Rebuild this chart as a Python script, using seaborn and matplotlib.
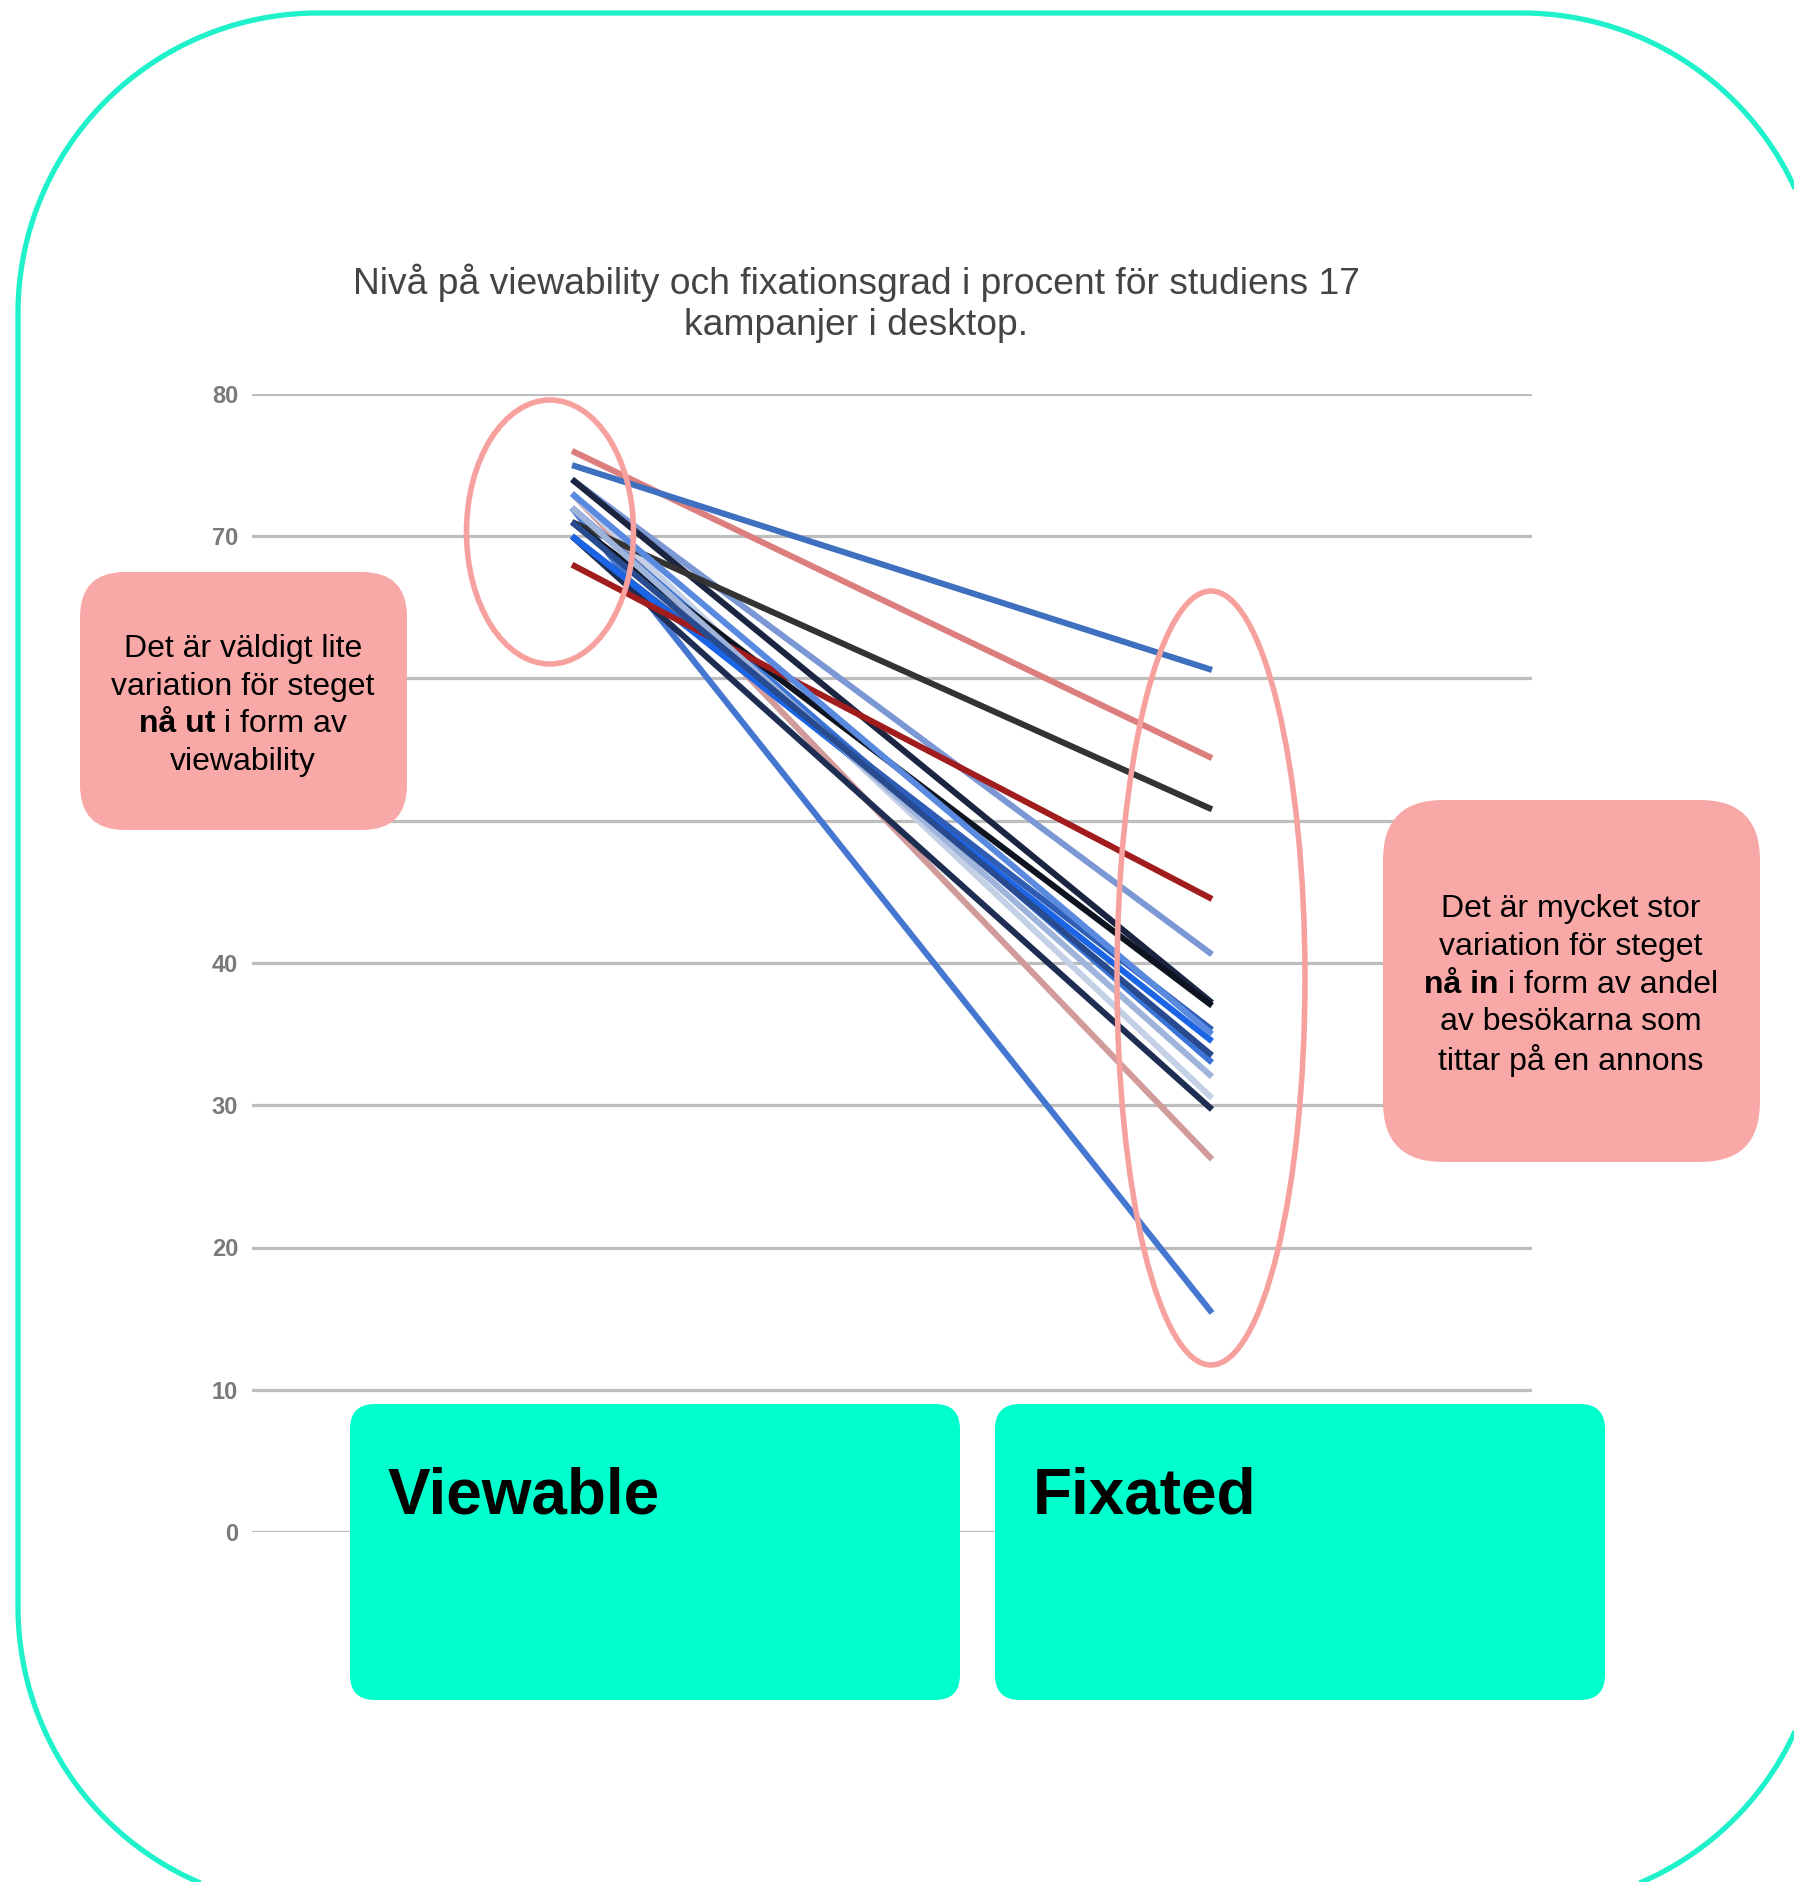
import matplotlib
matplotlib.use("Agg")
import matplotlib.pyplot as plt
from matplotlib.patches import FancyBboxPatch, Ellipse, PathPatch
from matplotlib.path import Path
import numpy as np
import pandas as pd
import seaborn as sns

# ---- data -------------------------------------------------------------
stages = ["Viewable", "Fixated"]
campaigns = [f"Kampanj {i}" for i in range(1, 18)]
viewable = [76, 75, 74, 74, 73, 73, 72, 72, 71, 71, 70, 70, 70, 68, 72, 73, 71]
fixated = [54.4, 60.6, 40.6, 37.2, 26.2, 30.5, 15.4, 33.0, 50.8, 37.0,
           29.7, 35.3, 34.5, 44.5, 32.0, 35.0, 33.5]
line_colors = ["#DD7E7E", "#3F6FBF", "#7C98D4", "#1B2440", "#D29B9B",
               "#C4D0E6", "#4577D1", "#3A74D6", "#333333", "#0E1420",
               "#1E2D52", "#2F5DB3", "#1C64E6", "#A11D1D", "#9FB4DA",
               "#5A8AE0", "#284B8F"]
y_ticks = [0, 10, 20, 30, 40, 50, 60, 70, 80]
# the 50 and 60 labels sit under the left note box
y_tick_labels = ["0", "10", "20", "30", "40", "", "", "70", "80"]

title_lines = ["Nivå på viewability och fixationsgrad i procent för studiens 17",
               "kampanjer i desktop."]
left_note = [[("Det är väldigt lite", "normal")],
             [("variation för steget", "normal")],
             [("nå ut", "bold"), (" i form av", "normal")],
             [("viewability", "normal")]]
right_note = [[("Det är mycket stor", "normal")],
              [("variation för steget", "normal")],
              [("nå in", "bold"), (" i form av andel", "normal")],
              [("av besökarna som", "normal")],
              [("tittar på en annons", "normal")]]

df = pd.DataFrame({
    "campaign": campaigns * 2,
    "pos": [0] * len(campaigns) + [1] * len(campaigns),
    "value": viewable + fixated,
})

# ---- figure -----------------------------------------------------------
sns.set_theme(style="white")
plt.rcParams["font.family"] = ["Liberation Sans", "DejaVu Sans"]

W, H = 1794, 1882
fig = plt.figure(figsize=(W / 100, H / 100), dpi=100)
fig.patch.set_facecolor("white")

TEAL = "#00FFCC"
PINK = "#F8A8A6"
RING = "#F7A19F"


def rounded_rect_path(x0, y0, x1, y1, r, n=60):
    """Closed outline of a rounded rectangle (y grows downward)."""
    pts = []
    corners = [((x1 - r, y0 + r), -90, 0),    # top-right
               ((x1 - r, y1 - r), 0, 90),     # bottom-right
               ((x0 + r, y1 - r), 90, 180),   # bottom-left
               ((x0 + r, y0 + r), 180, 270)]  # top-left
    for (cx, cy), a0, a1 in corners:
        a = np.radians(np.linspace(a0, a1, n))
        pts.extend(zip(cx + r * np.cos(a), cy + r * np.sin(a)))
    pts.append(pts[0])
    codes = [Path.MOVETO] + [Path.LINETO] * (len(pts) - 2) + [Path.CLOSEPOLY]
    return Path(pts, codes)


# background layer: rounded card outline (pixel coordinates)
bg = fig.add_axes([0, 0, 1, 1], zorder=0)
bg.set_xlim(0, W)
bg.set_ylim(H, 0)
bg.axis("off")
bg.add_patch(PathPatch(rounded_rect_path(18, 13, 1822, 1907, 300),
                       fill=False, edgecolor="#1FF2CB", linewidth=3.8))

# chart layer
ax_left, ax_right = 252, 1532
ax_top, ax_bottom = 394, 1532
ax = fig.add_axes([ax_left / W, 1 - ax_bottom / H,
                   (ax_right - ax_left) / W, (ax_bottom - ax_top) / H],
                  zorder=1)
ax.set_facecolor("none")

sns.lineplot(data=df, x="pos", y="value", hue="campaign",
             hue_order=campaigns, palette=line_colors, linewidth=4.4,
             legend=False, sort=False, ax=ax, solid_capstyle="butt")

ax.set_xlim(-0.5, 1.5)
ax.set_ylim(0, 80)
ax.set_yticks(y_ticks)
ax.set_yticklabels(y_tick_labels)
ax.set_xticks([])
ax.set_xlabel("")
ax.set_ylabel("")
ax.grid(axis="y", color="#BDBDBD", linewidth=2.3)
ax.set_axisbelow(True)
for s in ax.spines.values():
    s.set_visible(False)
ax.tick_params(axis="y", length=0, pad=10, labelsize=17, labelcolor="#7a7a7a")
for lbl in ax.get_yticklabels():
    lbl.set_fontweight("bold")

# foreground layer: title, notes, rings and stage labels (pixel coordinates)
fg = fig.add_axes([0, 0, 1, 1], zorder=3)
fg.set_xlim(0, W)
fg.set_ylim(H, 0)
fg.axis("off")

for i, t in enumerate(title_lines):
    fg.text(856, 283 + 42 * i, t, ha="center", va="center",
            fontsize=26.8, color="#444444")

# rings around start and end clusters
fg.add_patch(Ellipse((550, 532), 167, 264, fill=False,
                     edgecolor=RING, linewidth=4))
fg.add_patch(Ellipse((1211, 978), 188, 774, fill=False,
                     edgecolor=RING, linewidth=4))

# note boxes
fg.add_patch(FancyBboxPatch((80, 572), 327, 258,
                            boxstyle="round,pad=0,rounding_size=45",
                            facecolor=PINK, edgecolor="none"))
fg.add_patch(FancyBboxPatch((1383, 800), 377, 362,
                            boxstyle="round,pad=0,rounding_size=60",
                            facecolor=PINK, edgecolor="none"))

renderer = fig.canvas.get_renderer()


def draw_rich_lines(lines, cx, y0, step, size):
    for k, segs in enumerate(lines):
        y = y0 + step * k
        texts = [fg.text(0, y, s, fontsize=size, fontweight=w, color="black",
                         ha="left", va="center") for s, w in segs]
        widths = [t.get_window_extent(renderer).width for t in texts]
        x = cx - sum(widths) / 2
        for t, w in zip(texts, widths):
            t.set_x(x)
            x += w


draw_rich_lines(left_note, 243, 649, 37.6, 23)
draw_rich_lines(right_note, 1571, 909, 37.8, 23)

# stage label boxes
for (x0, label) in [(350, stages[0]), (995, stages[1])]:
    fg.add_patch(FancyBboxPatch((x0, 1404), 610, 296,
                                boxstyle="round,pad=0,rounding_size=25",
                                facecolor=TEAL, edgecolor="none"))
    fg.text(x0 + 38, 1514, label, fontsize=46, fontweight="bold",
            color="black", ha="left", va="baseline")

fig.savefig("out.png", dpi=100, facecolor="white")
